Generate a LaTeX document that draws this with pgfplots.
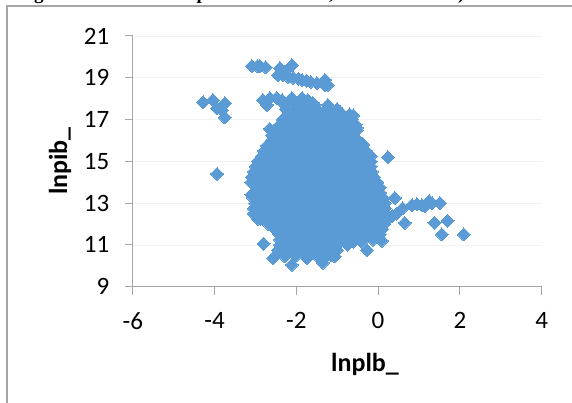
\documentclass[border=0pt]{standalone}
\usepackage{pgfplots}
\pgfplotsset{compat=1.18}
\usepackage{fontspec}
\setmainfont{Carlito}
\newfontfamily\timesb{Liberation Serif}[Scale=1]
\definecolor{mk}{HTML}{5B9BD5}
\definecolor{ax}{HTML}{A6A6A6}
\definecolor{gr}{HTML}{F2F2F2}
\begin{document}
\begin{tikzpicture}[x=1pt,y=1pt]
\useasboundingbox (0,0) rectangle (572,403);
\begin{scope}
\clip (0,0) rectangle (572,403);
\draw[color=ax,line width=1.2pt] (7,-5) -- (7,397) -- (580,397);
\node[anchor=base west,inner sep=0,font=\timesb\bfseries\fontsize{19}{19}\selectfont] at (17,403) {Figure};
\node[anchor=base west,inner sep=0,font=\timesb\bfseries\fontsize{19}{19}\selectfont] at (189,403) {spe};
\node[anchor=base west,inner sep=0,font=\timesb\bfseries\fontsize{19}{19}\selectfont] at (329,403) {,};
\node[anchor=base west,inner sep=0,font=\timesb\bfseries\fontsize{19}{19}\selectfont] at (458,403) {)};
\end{scope}
\begin{axis}[
  at={(132.8pt,116.3pt)},anchor=south west,
  scale only axis,width=408.8pt,height=250.7pt,
  xmin=-6,xmax=4,ymin=9,ymax=21,
  xtick={-6,-4,-2,0,2,4},ytick={9,11,13,15,17,19,21},
  axis line style={color=ax,line width=1.1pt},
  axis x line=bottom,axis y line=left,
  axis line style={-,color=ax,line width=1.1pt},
  tick style={color=ax,line width=1pt},
  tick align=outside,major tick length=8pt,
  ymajorgrids,grid style={color=gr,line width=0.8pt},
  tick label style={font=\fontsize{25}{25}\selectfont},
  /pgf/number format/assume math mode=true,
  xticklabel style={yshift=-14pt},
  yticklabel style={xshift=-12pt},
  clip=false,
  xlabel={lnplb\_},ylabel={lnpib\_},
  xlabel style={font=\bfseries\fontsize{26}{26}\selectfont,at={(axis description cs:0.568,-0.312)},anchor=center},
  ylabel style={font=\bfseries\fontsize{26}{26}\selectfont,at={(axis description cs:-0.178,0.501)},anchor=center},
]
\addplot[only marks,mark=square*,mark size=4.6pt,mark options={rotate=45,color=mk,fill=mk,line width=0pt}] coordinates {
(-3.09,19.56)(-2.95,19.56)(-2.89,19.56)(-2.75,19.5)(-2.4,19.46)(-2.11,19.6)(-2.28,19.3)(-2.33,19.13)(-2.45,19.13)(-2.2,19.05)(-2.08,19.0)(-1.95,18.95)(-1.86,18.9)(-1.75,18.85)(-1.65,18.8)(-1.5,18.75)(-1.3,18.9)(-1.3,18.65)(-1.23,18.65)
(-2.82,17.93)(-2.65,18.03)(-2.48,18.03)(-2.35,17.93)(-2.11,18.03)(-1.86,18.03)(-1.72,17.93)(-1.6,17.8)(-2.72,17.7)(-1.23,17.69)(-0.93,17.35)(-0.61,17.2)(-0.52,16.6)(-0.37,15.83)(-0.18,15.25)
(-2.3,17.75)(-2.05,17.75)(-1.8,17.75)(-1.55,17.7)
(-4.28,17.83)(-4.04,17.93)(-3.75,17.78)(-3.94,17.55)(-3.82,17.45)(-3.75,17.1)(-3.94,14.4)
(0.41,13.25)(0.65,12.05)(0.83,12.9)(1.07,12.9)(1.32,13.0)(1.51,13.0)(1.15,12.85)(0.95,12.95)(1.25,13.1)(1.38,12.05)(1.7,12.15)(1.56,11.5)(2.1,11.5)(0.46,12.5)(0.6,12.75)(0.35,12.4)(0.24,15.2)
(-2.25,17.5)(-2,17.5)(-1.75,17.5)(-1.5,17.5)(-1.25,17.5)(-1,17.5)
(-2.2,17.25)(-2.125,17.25)(-1.875,17.25)(-1.625,17.25)(-1.375,17.25)(-1.125,17.25)(-0.875,17.25)(-0.7,17.25)
(-2.33,17)(-2.25,17)(-2,17)(-1.75,17)(-1.5,17)(-1.25,17)(-1,17)(-0.75,17)(-0.64,17)
(-2.4,16.75)(-2.125,16.75)(-1.875,16.75)(-1.625,16.75)(-1.375,16.75)(-1.125,16.75)(-0.875,16.75)(-0.625,16.75)(-0.55,16.75)
(-2.65,16.55)(-2.5,16.5)(-2.25,16.5)(-2,16.5)(-1.75,16.5)(-1.5,16.5)(-1.25,16.5)(-1,16.5)(-0.75,16.5)(-0.52,16.5)
(-2.6,16.25)(-2.375,16.25)(-2.125,16.25)(-1.875,16.25)(-1.625,16.25)(-1.375,16.25)(-1.125,16.25)(-0.875,16.25)(-0.69,16.25)
(-2.6,16)(-2.5,16)(-2.25,16)(-2,16)(-1.75,16)(-1.5,16)(-1.25,16)(-1,16)(-0.75,16)(-0.49,16)
(-2.72,15.75)(-2.625,15.75)(-2.375,15.75)(-2.125,15.75)(-1.875,15.75)(-1.625,15.75)(-1.375,15.75)(-1.125,15.75)(-0.875,15.75)(-0.625,15.75)(-0.375,15.75)
(-2.79,15.5)(-2.5,15.5)(-2.25,15.5)(-2,15.5)(-1.75,15.5)(-1.5,15.5)(-1.25,15.5)(-1,15.5)(-0.75,15.5)(-0.5,15.5)(-0.3,15.5)
(-2.84,15.25)(-2.625,15.25)(-2.375,15.25)(-2.125,15.25)(-1.875,15.25)(-1.625,15.25)(-1.375,15.25)(-1.125,15.25)(-0.875,15.25)(-0.625,15.25)(-0.375,15.25)(-0.25,15.25)
(-2.94,15)(-2.75,15)(-2.5,15)(-2.25,15)(-2,15)(-1.75,15)(-1.5,15)(-1.25,15)(-1,15)(-0.75,15)(-0.5,15)(-0.25,15)(-0.18,15)
(-2.99,14.75)(-2.875,14.75)(-2.625,14.75)(-2.375,14.75)(-2.125,14.75)(-1.875,14.75)(-1.625,14.75)(-1.375,14.75)(-1.125,14.75)(-0.875,14.75)(-0.625,14.75)(-0.375,14.75)(-0.18,14.75)
(-3.04,14.5)(-2.75,14.5)(-2.5,14.5)(-2.25,14.5)(-2,14.5)(-1.75,14.5)(-1.5,14.5)(-1.25,14.5)(-1,14.5)(-0.75,14.5)(-0.5,14.5)(-0.25,14.5)(-0.15,14.5)
(-3.09,14.25)(-2.875,14.25)(-2.625,14.25)(-2.375,14.25)(-2.125,14.25)(-1.875,14.25)(-1.625,14.25)(-1.375,14.25)(-1.125,14.25)(-0.875,14.25)(-0.625,14.25)(-0.375,14.25)(-0.1,14.25)
(-3.1,14)(-3,14)(-2.75,14)(-2.5,14)(-2.25,14)(-2,14)(-1.75,14)(-1.5,14)(-1.25,14)(-1,14)(-0.75,14)(-0.5,14)(-0.25,14)(-0.02,14)
(-2.96,13.75)(-2.625,13.75)(-2.875,13.75)(-2.375,13.75)(-2.125,13.75)(-1.875,13.75)(-1.625,13.75)(-1.375,13.75)(-1.125,13.75)(-0.875,13.75)(-0.625,13.75)(-0.375,13.75)(-0.125,13.75)(0.04,13.75)
(-3.1,13.4)(-3,13.5)(-2.75,13.5)(-2.5,13.5)(-2.25,13.5)(-2,13.5)(-1.75,13.5)(-1.5,13.5)(-1.25,13.5)(-1,13.5)(-0.75,13.5)(-0.5,13.5)(-0.25,13.5)(0,13.5)(0.05,13.5)
(-3.05,13.25)(-2.875,13.25)(-2.625,13.25)(-2.375,13.25)(-2.125,13.25)(-1.875,13.25)(-1.625,13.25)(-1.375,13.25)(-1.125,13.25)(-0.875,13.25)(-0.625,13.25)(-0.375,13.25)(-0.125,13.25)(0.12,13.25)
(-3,13)(-2.75,13)(-2.5,13)(-2.25,13)(-2,13)(-1.75,13)(-1.5,13)(-1.25,13)(-1,13)(-0.75,13)(-0.5,13)(-0.25,13)(0,13)(0.17,13)
(-3.04,12.75)(-2.875,12.75)(-2.625,12.75)(-2.375,12.75)(-2.125,12.75)(-1.875,12.75)(-1.625,12.75)(-1.375,12.75)(-1.125,12.75)(-0.875,12.75)(-0.625,12.75)(-0.375,12.75)(-0.125,12.75)(0.125,12.75)(0.17,12.75)
(-3.04,12.5)(-2.75,12.5)(-2.5,12.5)(-2.25,12.5)(-2,12.5)(-1.75,12.5)(-1.5,12.5)(-1.25,12.5)(-1,12.5)(-0.75,12.5)(-0.5,12.5)(-0.25,12.5)(0,12.5)(0.19,12.5)
(-2.94,12.25)(-2.625,12.25)(-2.875,12.25)(-2.375,12.25)(-2.125,12.25)(-1.875,12.25)(-1.625,12.25)(-1.375,12.25)(-1.125,12.25)(-0.875,12.25)(-0.625,12.25)(-0.375,12.25)(-0.125,12.25)(0.125,12.25)(0.24,12.25)
(-2.68,12)(-2.5,12)(-2.25,12)(-2,12)(-1.75,12)(-1.5,12)(-1.25,12)(-1,12)(-0.75,12)(-0.5,12)(-0.25,12)(0,12)(0.14,12)
(-2.52,11.75)(-2.375,11.75)(-2.125,11.75)(-1.875,11.75)(-1.625,11.75)(-1.375,11.75)(-1.125,11.75)(-0.875,11.75)(-0.625,11.75)(-0.375,11.75)(-0.125,11.75)(0.09,11.75)
(-2.42,11.5)(-2.25,11.5)(-2,11.5)(-1.75,11.5)(-1.5,11.5)(-1.25,11.5)(-1,11.5)(-0.75,11.5)(-0.5,11.5)(-0.25,11.5)(0,11.5)(0.04,11.5)
(-2.4,11.25)(-2.125,11.25)(-1.875,11.25)(-1.625,11.25)(-1.375,11.25)(-1.125,11.25)(-0.875,11.25)(-0.625,11.25)(-0.375,11.25)(-0.125,11.25)(0.09,11.2)
(-2.8,11.05)(-2.4,11)(-2.25,11)(-2,11)(-1.75,11)(-1.5,11)(-1.25,11)(-1,11)(-0.75,11)(-0.6,11.15)(-0.4,11.15)(-0.27,10.75)
(-2.45,10.75)(-2.125,10.75)(-1.875,10.75)(-1.625,10.75)(-1.375,10.75)(-1.125,10.75)(-1,10.75)
(-2.5,10.5)(-2.25,10.5)(-2,10.5)(-1.75,10.5)(-1.5,10.5)(-1.25,10.5)(-1.15,10.5)
(-2.57,10.37)(-2.28,10.45)(-2.11,10.05)(-1.74,10.37)(-1.35,10.15)(-1.06,10.45)
};
\end{axis}
\end{tikzpicture}
\end{document}
